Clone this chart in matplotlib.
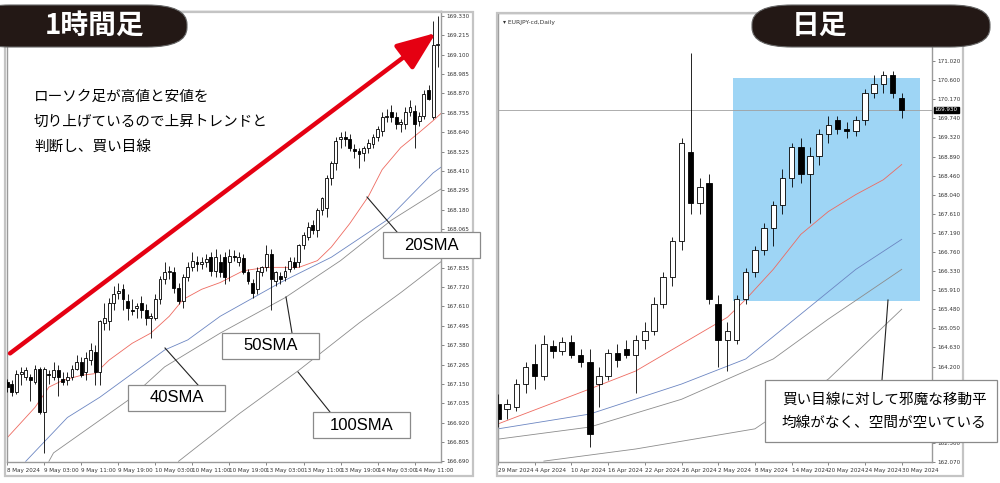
import matplotlib
matplotlib.use("Agg")
import matplotlib.pyplot as plt
from matplotlib.patches import FancyBboxPatch, Rectangle
from matplotlib.lines import Line2D

W, H = 1000, 483
JP = ['Noto Sans CJK JP', 'DejaVu Sans']

# ---------------- 1 hour chart (EURJPY H1) ----------------
h1_open = [167.16, 167.15, 167.10, 167.21, 167.19, 167.19, 167.16, 167.24, 166.98, 167.21,
           167.19, 167.23, 167.18, 167.17, 167.19, 167.24, 167.28, 167.22, 167.29, 167.34,
           167.22, 167.51, 167.52, 167.63, 167.69, 167.71, 167.64, 167.59, 167.60, 167.63,
           167.59, 167.54, 167.54, 167.65, 167.77, 167.81, 167.81, 167.72, 167.64, 167.78,
           167.84, 167.87, 167.86, 167.87, 167.90, 167.82, 167.87, 167.90, 167.87, 167.91,
           167.87, 167.895, 167.81, 167.75, 167.71, 167.81, 167.84, 167.92, 167.76, 167.79,
           167.78, 167.83, 167.87, 167.87, 167.97, 168.02, 168.09, 168.06, 168.18, 168.19,
           168.37, 168.46, 168.60, 168.61, 168.60, 168.54, 168.53, 168.52, 168.55, 168.57,
           168.61, 168.65, 168.73, 168.76, 168.73, 168.69, 168.69, 168.76, 168.77, 168.71,
           168.74, 168.89, 168.73, 169.16]
h1_high = [167.18, 167.17, 167.23, 167.25, 167.25, 167.21, 167.26, 167.25, 167.25, 167.23,
           167.28, 167.26, 167.22, 167.22, 167.26, 167.32, 167.31, 167.34, 167.39, 167.38,
           167.53, 167.63, 167.66, 167.73, 167.75, 167.74, 167.68, 167.65, 167.63, 167.67,
           167.62, 167.57, 167.68, 167.79, 167.87, 167.85, 167.84, 167.75, 167.80, 167.87,
           167.93, 167.91, 167.90, 167.92, 167.93, 167.95, 167.92, 167.93, 167.95, 167.94,
           167.93, 167.92, 167.83, 167.77, 167.84, 167.85, 167.97, 167.95, 167.82, 167.81,
           167.85, 167.90, 167.90, 167.98, 168.05, 168.11, 168.12, 168.19, 168.26, 168.39,
           168.47, 168.61, 168.64, 168.65, 168.63, 168.57, 168.55, 168.56, 168.60, 168.63,
           168.68, 168.76, 168.78, 168.80, 168.76, 168.72, 168.79, 168.83, 168.80, 168.76,
           168.89, 168.92, 169.30, 169.33]
h1_low = [167.10, 167.08, 167.09, 167.14, 167.17, 167.05, 167.15, 166.97, 166.74, 167.15,
          167.17, 167.08, 167.14, 167.14, 167.17, 167.23, 167.19, 167.17, 167.26, 167.14,
          167.14, 167.47, 167.47, 167.59, 167.65, 167.59, 167.53, 167.56, 167.54, 167.54,
          167.50, 167.42, 167.53, 167.62, 167.74, 167.77, 167.69, 167.62, 167.60, 167.76,
          167.82, 167.82, 167.83, 167.84, 167.79, 167.78, 167.78, 167.74, 167.76, 167.88,
          167.85, 167.80, 167.74, 167.66, 167.68, 167.79, 167.82, 167.59, 167.73, 167.74,
          167.76, 167.81, 167.83, 167.84, 167.95, 168.00, 168.04, 168.02, 168.15, 168.14,
          168.33, 168.42, 168.55, 168.56, 168.53, 168.49, 168.43, 168.47, 168.52, 168.55,
          168.59, 168.62, 168.70, 168.70, 168.66, 168.64, 168.66, 168.74, 168.55, 168.68,
          168.72, 168.83, 168.72, 169.03]
h1_close = [167.13, 167.10, 167.21, 167.22, 167.23, 167.17, 167.24, 166.98, 167.24, 167.20,
            167.23, 167.19, 167.16, 167.19, 167.24, 167.28, 167.20, 167.30, 167.35, 167.22,
            167.52, 167.54, 167.63, 167.68, 167.70, 167.65, 167.60, 167.58, 167.61, 167.59,
            167.54, 167.55, 167.65, 167.77, 167.81, 167.82, 167.72, 167.64, 167.78, 167.84,
            167.88, 167.86, 167.87, 167.89, 167.82, 167.90, 167.81, 167.78, 167.91, 167.90,
            167.90, 167.81, 167.76, 167.69, 167.82, 167.84, 167.92, 167.77, 167.81, 167.77,
            167.82, 167.88, 167.84, 167.97, 168.03, 168.08, 168.06, 168.18, 168.25, 168.37,
            168.46, 168.59, 168.61, 168.60, 168.55, 168.53, 168.51, 168.55, 168.58, 168.61,
            168.66, 168.73, 168.74, 168.73, 168.69, 168.70, 168.76, 168.79, 168.69, 168.74,
            168.87, 168.84, 169.16, 169.16]
h1_ticks = ["8 May 2024", "9 May 03:00", "9 May 11:00", "9 May 19:00", "10 May 03:00",
            "10 May 11:00", "10 May 19:00", "13 May 03:00", "13 May 11:00", "13 May 19:00",
            "14 May 03:00", "14 May 11:00"]
# the label under the 20SMA box is hidden in the picture
h1_price_labels = ["169.330", "169.215", "169.100", "168.985", "168.870", "168.755", "168.640",
                   "168.525", "168.410", "168.295", "168.180", "168.065", "", "167.835",
                   "167.720", "167.610", "167.495", "167.380", "167.265", "167.150", "167.035",
                   "166.920", "166.805", "166.690"]
# moving averages (bar index, value)
h1_sma20_x = [0, 6, 9, 12, 16, 19, 22, 27, 31, 35, 38, 42, 46, 51, 56, 63, 67, 70, 74, 78, 81, 85, 89, 92, 94]
h1_sma20 = [166.83, 167.01, 167.13, 167.17, 167.20, 167.21, 167.29, 167.39, 167.45, 167.55, 167.65,
            167.71, 167.75, 167.82, 167.84, 167.84, 167.88, 167.96, 168.10, 168.26, 168.42, 168.55,
            168.64, 168.71, 168.76]
h1_sma40_x = [4, 13, 20, 30, 34, 39, 46, 59, 70, 82, 92, 94]
h1_sma40 = [166.69, 166.95, 167.07, 167.27, 167.35, 167.41, 167.55, 167.75, 167.90, 168.12, 168.40, 168.44]
h1_sma50_x = [9, 10, 26, 34, 46, 60, 72, 83, 94]
h1_sma50 = [166.69, 166.74, 167.05, 167.25, 167.45, 167.66, 167.88, 168.12, 168.31]
h1_sma100_x = [37, 50, 63, 76, 85, 94]
h1_sma100 = [166.69, 166.97, 167.23, 167.51, 167.69, 167.88]

# ---------------- daily chart (EURJPY D1) ----------------
d1_open = [163.36, 163.25, 163.30, 163.80, 164.25, 164.00, 164.65, 164.55, 164.75, 164.45,
           164.30, 163.80, 164.00, 164.50, 164.60, 164.45, 164.80, 165.00, 165.60, 166.20,
           167.00, 169.00, 167.85, 168.30, 165.60, 164.80, 164.80, 165.70, 166.30, 166.80,
           167.30, 167.80, 168.40, 169.10, 168.50, 168.90, 169.40, 169.70, 169.50, 169.45,
           169.70, 170.30, 170.50, 170.70, 170.20]
d1_high = [163.59, 163.47, 163.92, 164.30, 164.70, 164.90, 164.80, 164.85, 164.90, 164.60,
           164.60, 164.20, 164.60, 164.70, 164.80, 164.90, 165.20, 165.75, 166.30, 167.10,
           169.30, 171.20, 168.40, 168.50, 165.80, 165.20, 165.80, 166.40, 166.90, 167.40,
           167.90, 168.60, 169.20, 169.30, 169.10, 169.50, 169.80, 169.80, 169.65, 169.80,
           170.40, 170.70, 170.80, 170.80, 170.30]
d1_low = [162.85, 163.03, 163.20, 163.60, 163.70, 163.90, 164.40, 164.45, 164.40, 164.20,
          162.40, 163.30, 163.90, 164.20, 164.40, 163.60, 164.60, 164.90, 165.50, 166.00,
          166.80, 167.60, 167.60, 165.60, 164.20, 164.10, 164.70, 165.60, 166.20, 166.70,
          166.90, 167.60, 168.20, 168.30, 167.40, 168.70, 169.20, 169.40, 169.30, 169.35,
          169.60, 170.20, 170.30, 170.20, 169.75]
d1_close = [163.03, 163.36, 163.80, 164.20, 164.00, 164.70, 164.55, 164.75, 164.45, 164.30,
            162.70, 164.00, 164.50, 164.35, 164.45, 164.80, 165.00, 165.60, 166.20, 167.00,
            169.20, 167.85, 168.20, 165.70, 164.80, 165.00, 165.70, 166.30, 166.80, 167.30,
            167.80, 168.40, 169.10, 168.50, 168.90, 169.40, 169.60, 169.50, 169.45, 169.70,
            170.30, 170.50, 170.70, 170.30, 169.93]
d1_ticks = ["29 Mar 2024", "4 Apr 2024", "10 Apr 2024", "16 Apr 2024", "22 Apr 2024", "26 Apr 2024",
            "2 May 2024", "8 May 2024", "14 May 2024", "20 May 2024", "24 May 2024", "30 May 2024"]
# labels under the comment box are hidden in the picture
d1_price_labels = ["171.870", "171.450", "171.020", "170.600", "170.170", "169.740", "169.320",
                   "168.890", "168.460", "168.040", "167.610", "167.190", "166.760", "166.330",
                   "165.910", "165.480", "165.050", "164.630", "164.200", "", "",
                   "", "162.500", "162.070"]
d1_sma20_x = [0, 10, 15, 20, 25, 27, 30, 33, 36, 39, 42, 44]
d1_sma20 = [162.92, 163.70, 164.10, 164.70, 165.30, 165.70, 166.37, 167.15, 167.66, 168.04, 168.37, 168.71]
d1_sma40_x = [0, 10, 20, 27, 33, 39, 44]
d1_sma40 = [162.81, 163.14, 163.81, 164.37, 165.37, 166.37, 167.04]
d1_sma50_x = [0, 10, 20, 30, 36, 44]
d1_sma50 = [162.58, 162.85, 163.47, 164.37, 165.26, 166.37]
d1_sma100_x = [5, 15, 28, 36, 44]
d1_sma100 = [162.09, 162.36, 162.81, 163.92, 165.48]


def fx(x):
    return x / W


def fy(y):
    return 1 - y / H


def candles(ax, o, h, l, c, width, lw):
    for i in range(len(o)):
        ax.vlines(i, l[i], h[i], color='black', lw=lw, zorder=3)
        lo, hi = min(o[i], c[i]), max(o[i], c[i])
        face = 'white' if c[i] >= o[i] else 'black'
        ax.add_patch(Rectangle((i - width / 2, lo), width, max(hi - lo, 0.002),
                               facecolor=face, edgecolor='black', lw=lw, zorder=4))


def style_axis(ax, tick_pos, tick_labels, yvals, ylabels):
    for s in ax.spines.values():
        s.set_color('#9a9a9a')
        s.set_linewidth(1.0)
    ax.yaxis.tick_right()
    ax.set_yticks(yvals)
    ax.set_yticklabels(ylabels)
    ax.set_xticks(tick_pos)
    ax.set_xticklabels(tick_labels, ha='left')
    ax.tick_params(axis='both', labelsize=4.1, length=2, width=0.5, color='#555555',
                   labelcolor='#333333', pad=1.5)
    ax.tick_params(axis='x', pad=2.5)


fig = plt.figure(figsize=(10, 4.83), dpi=100)
fig.patch.set_facecolor('white')

# outer window frames
for (x0, y0, x1, y1) in [(5, 12, 473, 476), (497, 13, 963, 476)]:
    fig.patches.append(Rectangle((fx(x0), fy(y1)), fx(x1 - x0), (y1 - y0) / H,
                                 transform=fig.transFigure, facecolor='none',
                                 edgecolor='#c4c4c4', lw=1.6, zorder=0))

# ---------- left: 1 hour ----------
ax1 = fig.add_axes([fx(7), fy(462), fx(434), 451 / H])
candles(ax1, h1_open, h1_high, h1_low, h1_close, 0.62, 0.6)
ax1.plot(h1_sma20_x, h1_sma20, color='#ee6a60', lw=0.6, zorder=2)
ax1.plot(h1_sma40_x, h1_sma40, color='#6c86c2', lw=0.6, zorder=2)
ax1.plot(h1_sma50_x, h1_sma50, color='#8c8c8c', lw=0.6, zorder=2)
ax1.plot(h1_sma100_x, h1_sma100, color='#8c8c8c', lw=0.6, zorder=2)
ax1.set_xlim(-0.05, 93.7)
ax1.set_ylim(166.686, 169.360)
h1_step = (169.330 - 166.690) / (len(h1_price_labels) - 1)
style_axis(ax1, list(range(0, 8 * len(h1_ticks), 8)), h1_ticks,
           [169.330 - k * h1_step for k in range(len(h1_price_labels))], h1_price_labels)

# red trend arrow
ax1.annotate('', xy=(92.6, 169.23), xytext=(0.6, 167.33),
             arrowprops=dict(arrowstyle='-|>,head_length=2.4,head_width=0.95', lw=3.2,
                             color='#e50012', mutation_scale=10, shrinkA=0, shrinkB=0),
             annotation_clip=False, zorder=6)

# ---------- right: daily ----------
ax2 = fig.add_axes([fx(498), fy(462), fx(434), 449 / H])
ax2.add_patch(Rectangle((25.6, 165.656), 46.0 - 25.6, 170.645 - 165.656,
                        facecolor='#9ed5f5', edgecolor='none', zorder=1))
ax2.axhline(d1_close[-1], color='#a0a0a0', lw=0.6, zorder=1.5)
candles(ax2, d1_open, d1_high, d1_low, d1_close, 0.6, 0.6)
ax2.plot(d1_sma20_x, d1_sma20, color='#ee6a60', lw=0.6, zorder=2)
ax2.plot(d1_sma40_x, d1_sma40, color='#6c86c2', lw=0.6, zorder=2)
ax2.plot(d1_sma50_x, d1_sma50, color='#8c8c8c', lw=0.6, zorder=2)
ax2.plot(d1_sma100_x, d1_sma100, color='#8c8c8c', lw=0.6, zorder=2)
ax2.set_xlim(0.05, 47.3)
ax2.set_ylim(162.093, 172.092)
d1_step = (171.870 - 162.070) / (len(d1_price_labels) - 1)
style_axis(ax2, list(range(0, 4 * len(d1_ticks), 4)), d1_ticks,
           [171.870 - k * d1_step for k in range(len(d1_price_labels))], d1_price_labels)
ax2.text(0.012, 0.985, '\u25be EURJPY-cd,Daily', transform=ax2.transAxes, fontsize=4.3,
         color='#333333', va='top', ha='left')
# current price tag
ax2.annotate(f'{d1_close[-1]:.3f}', xy=(1.0, d1_close[-1]), xycoords=('axes fraction', 'data'),
             xytext=(2, 0), textcoords='offset points', fontsize=4.1, color='white',
             va='center', ha='left', annotation_clip=False,
             bbox=dict(boxstyle='square,pad=0.15', fc='black', ec='black'))

# ---------- annotations (figure level) ----------
fig.text(fx(34), fy(97), 'ローソク足が高値と安値を', fontsize=10.5, family=JP, va='center')
fig.text(fx(34), fy(122), '切り上げているので上昇トレンドと', fontsize=10.5, family=JP, va='center')
fig.text(fx(34), fy(147), '判断し、買い目線', fontsize=10.5, family=JP, va='center')

# SMA label boxes and pointer lines
sma_boxes = [("20SMA", 383, 232, (367, 197), (397, 232)),
             ("40SMA", 128, 385, (165, 348), (198, 385)),
             ("50SMA", 222, 333, (286, 297), (292, 333)),
             ("100SMA", 313, 412, (298, 372), (330, 412))]
for label, bx, by, p0, p1 in sma_boxes:
    fig.add_artist(Line2D([fx(p0[0]), fx(p1[0])], [fy(p0[1]), fy(p1[1])], color='#222222',
                          lw=0.8, transform=fig.transFigure, zorder=7))
    fig.patches.append(Rectangle((fx(bx), fy(by + 26)), fx(97), 26 / H, transform=fig.transFigure,
                                 facecolor='white', edgecolor='#8a8a8a', lw=0.9, zorder=8))
    fig.text(fx(bx + 48.5), fy(by + 13), label, fontsize=12, family='Liberation Sans',
             ha='center', va='center', zorder=9)

# right comment box
fig.add_artist(Line2D([fx(888), fx(882)], [fy(300), fy(380)], color='#222222', lw=0.8,
                      transform=fig.transFigure, zorder=7))
fig.patches.append(Rectangle((fx(765), fy(442)), fx(232), 62 / H, transform=fig.transFigure,
                             facecolor='white', edgecolor='#8a8a8a', lw=0.9, zorder=8))
fig.text(fx(782), fy(400), '買い目線に対して邪魔な移動平', fontsize=10.5, family=JP,
         va='center', zorder=9)
fig.text(fx(782), fy(423), '均線がなく、空間が空いている', fontsize=10.5, family=JP,
         va='center', zorder=9)

# title banners
fig.patches.append(FancyBboxPatch((fx(-30), fy(47)), fx(217), 42 / H,
                                  boxstyle='round,pad=0,rounding_size=0.04',
                                  transform=fig.transFigure, facecolor='#231815',
                                  edgecolor='#666666', lw=0.8, zorder=10))
fig.text(fx(95), fy(26), '1時間足', fontsize=20, family=JP, weight='bold', color='white',
         ha='center', va='center', zorder=11)
fig.patches.append(FancyBboxPatch((fx(752), fy(47)), fx(238), 42 / H,
                                  boxstyle='round,pad=0,rounding_size=0.04',
                                  transform=fig.transFigure, facecolor='#231815',
                                  edgecolor='#666666', lw=0.8, zorder=10))
fig.text(fx(820), fy(26), '日足', fontsize=20, family=JP, weight='bold', color='white',
         ha='center', va='center', zorder=11)

fig.savefig('out.png', dpi=100)
